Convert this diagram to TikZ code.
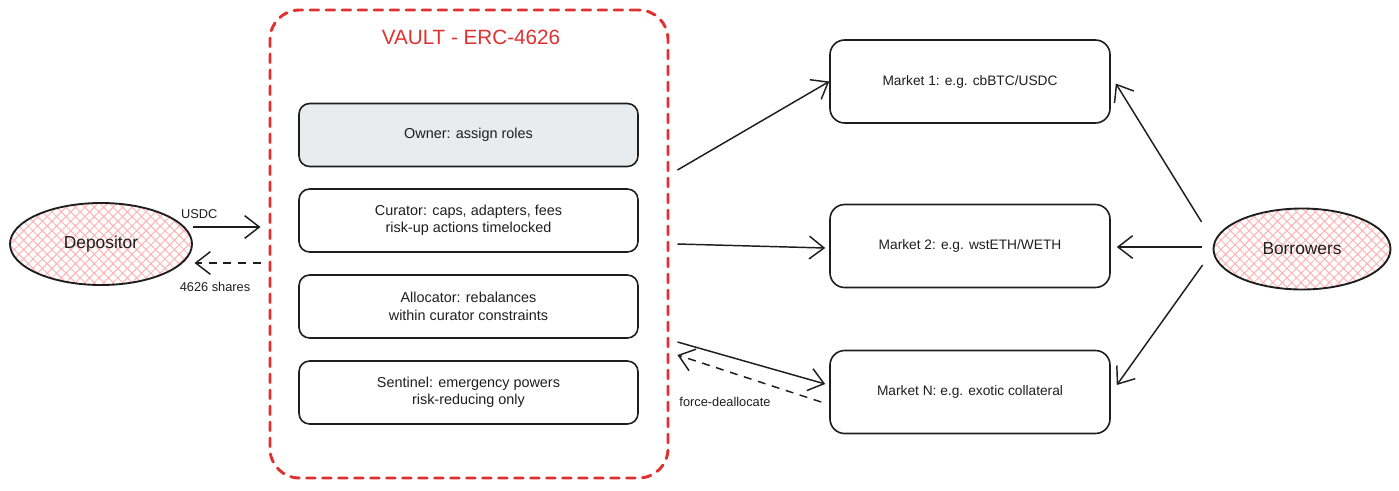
\documentclass[tikz,border=0pt]{standalone}
\usepackage{fontspec}
\setmainfont{Liberation Sans}
\usetikzlibrary{shapes.geometric,arrows.meta,patterns.meta,calc}
\definecolor{vred}{HTML}{E03131}
\definecolor{ownfill}{HTML}{E9ECEF}
\definecolor{hatchc}{HTML}{FFB3B3}
\definecolor{ink}{HTML}{1E1E1E}
\tikzset{
  role/.style={draw=ink, line width=1.2pt, rounded corners=8pt, minimum width=254.25pt, minimum height=47.25pt, align=center, font=\fontsize{10.8}{13}\selectfont, text=ink},
  market/.style={draw=ink, line width=1.2pt, rounded corners=11pt, minimum width=210pt, minimum height=62.25pt, align=center, font=\fontsize{10.3}{12}\selectfont, text=ink},
  actor/.style={ellipse, draw=ink, line width=1.4pt, inner sep=0pt, pattern={Hatch[angle=45,distance=5pt,line width=0.75pt]}, pattern color=hatchc, font=\fontsize{13}{15}\selectfont, text=ink},
  conn/.style={draw=ink, line width=1.1pt, -{Straight Barb[length=11pt,width=17pt,line width=1.1pt]}},
  dconn/.style={conn, dash pattern=on 6pt off 5pt},
  lbl/.style={font=\fontsize{9.6}{11}\selectfont, text=ink, inner sep=1pt}
}
\begin{document}
\begin{tikzpicture}[x=0.75pt,y=-0.75pt]
\useasboundingbox (0,0) rectangle (1399,490);
% vault
\node[draw=vred, line width=2.2pt, dash pattern=on 6.5pt off 5.5pt, line cap=round, rounded corners=22pt, minimum width=298.5pt, minimum height=351pt] (vault) at (469,244) {};
\node[text=vred, font=\fontsize{15.5}{18}\selectfont] (title) at (471,37) {VAULT - ERC-4626};
\node[role, fill=ownfill] (owner) at (468.5,135) {Owner: assign roles};
\node[role] (curator) at (468.5,220.5) {Curator: caps, adapters, fees\\risk-up actions timelocked};
\node[role] (alloc) at (468.5,306.5) {Allocator: rebalances\\within curator constraints};
\node[role] (sentinel) at (468.5,392.5) {Sentinel: emergency powers\\risk-reducing only};
% actors
\node[actor, minimum width=136.5pt, minimum height=61.5pt] (dep) at (101,244) {Depositor};
\node[actor, minimum width=132.75pt, minimum height=60.75pt] (bor) at (1302,249) {Borrowers};
% markets
\node[market] (m1) at (970,81.5) {Market 1: e.g. cbBTC/USDC};
\node[market] (m2) at (970,246) {Market 2: e.g. wstETH/WETH};
\node[market] (mN) at (970,392) {Market N: e.g. exotic collateral};
% depositor <-> vault
\draw[conn] ($(dep.east)+(0,-17)$) -- node[lbl, above=5pt, pos=0.1] {USDC} ($(vault.west)+(-8,-17)$);
\draw[dconn] ($(vault.west)+(-8,19)$) -- ($(dep.east)+(2,19)$);
\node[lbl] (shares) at (215,287) {4626 shares};
% vault -> markets
\draw[conn] ($(vault.east)+(8,-74)$) -- (m1.west);
\draw[conn] ($(vault.east)+(8,0)$) -- ($(m2.west)+(-4,2)$);
\draw[conn] ($(vault.east)+(8,98)$) -- ($(mN.west)+(-4,-8)$);
\draw[dconn] ($(mN.west)+(-8,10)$) -- ($(vault.east)+(8,111)$);
\node[lbl] (force) at (725,402) {force-deallocate};
% borrowers -> markets
\draw[conn] ($(bor.west)+(-11,-27)$) -- ($(m1.east)+(5,2)$);
\draw[conn] ($(bor.west)+(-11,-2)$) -- ($(m2.east)+(6,1)$);
\draw[conn] ($(bor.west)+(-10,16)$) -- ($(mN.east)+(6,-7)$);
\end{tikzpicture}
\end{document}
